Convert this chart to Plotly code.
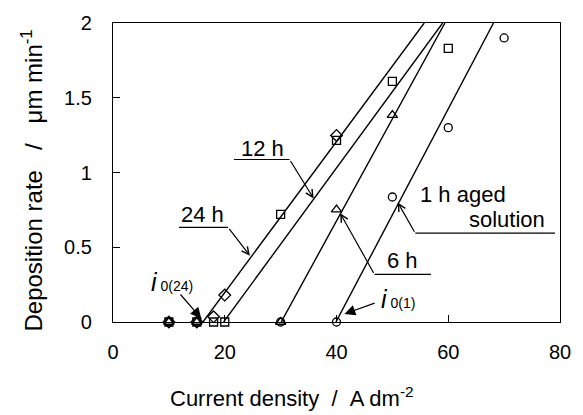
import plotly.graph_objects as go

# ---- data ----
x_1h = [10, 15, 30, 40, 50, 60, 70]
y_1h = [0, 0, 0, 0, 0.836, 1.30, 1.90]
x_6h = [10, 15, 30, 40, 50]
y_6h = [0, 0, 0, 0.752, 1.384]
x_12h = [10, 15, 18, 20, 30, 40, 50, 60]
y_12h = [0, 0, 0, 0, 0.72, 1.215, 1.61, 1.83]
x_24h = [10, 15, 18, 20, 40]
y_24h = [0, 0, 0.035, 0.18, 1.248]

# fitted lines (intercept current density i0 and point at rate = 2)
fit_24h_x = [16.1, 55.7]
fit_12h_x = [19.8, 59.0]
fit_6h_x = [30.1, 59.4]
fit_1h_x = [39.9, 68.1]
fit_y = [0, 2]

x_ticks = [0, 20, 40, 60, 80]
y_ticks = [0, 0.5, 1, 1.5, 2]
y_ticklabels = ["0", "0.5", "1", "1.5", "2"]

FONT = "Liberation Sans, Arial, Helvetica, sans-serif"

fig = go.Figure()

for fx in [fit_24h_x, fit_12h_x, fit_6h_x, fit_1h_x]:
    fig.add_trace(go.Scatter(x=fx, y=fit_y, mode="lines",
                             line=dict(color="black", width=1.4),
                             showlegend=False, hoverinfo="skip"))

def pts(x, y, sym, size):
    fig.add_trace(go.Scatter(x=x, y=y, mode="markers", cliponaxis=False,
                             marker=dict(symbol=sym, size=size, color="black",
                                         line=dict(color="black", width=1.3)),
                             showlegend=False))

pts(x_1h, y_1h, "circle-open", 8)
pts(x_6h, y_6h, "triangle-up-open", 9)
pts(x_12h, y_12h, "square-open", 8)
pts(x_24h, y_24h, "diamond-open", 9)

# label underlines and leader arrows
def label(text, tx, ty, ux0, ux1, uy, tipx, tipy, tailx, head, size=22):
    fig.add_annotation(x=tx, y=ty, text=text, showarrow=False,
                       font=dict(size=size, family=FONT, color="black"))
    fig.add_shape(type="line", x0=ux0, x1=ux1, y0=uy, y1=uy,
                  line=dict(color="black", width=1.2))
    fig.add_annotation(x=tipx, y=tipy, ax=tailx, ay=uy, axref="x", ayref="y",
                       text="", showarrow=True, arrowhead=head, arrowsize=1.2,
                       arrowwidth=1.2, arrowcolor="black")

label("24 h", 16.07, 0.72, 11.8, 20.6, 0.633, 24.5, 0.443, 20.6, 5)
label("12 h", 26.8, 1.16, 21.66, 31.6, 1.087, 35.9, 0.826, 31.6, 5)
label("6 h", 51.8, 0.41, 46.8, 56.9, 0.318, 40.66, 0.728, 46.8, 5)
fig.add_annotation(x=62.7, y=0.85, text="1 h aged", showarrow=False,
                   font=dict(size=22, family=FONT, color="black"))
label("solution", 70.6, 0.685, 54.1, 79.1, 0.594, 50.95, 0.80, 54.1, 5)

# i0 markers
fig.add_annotation(x=10.6, y=0.27, showarrow=False,
                   text="<i>i</i><span style='font-size:14px'> 0(24)</span>",
                   font=dict(size=25, family=FONT, color="black"))
fig.add_annotation(x=15.8, y=0.024, ax=11.84, ay=0.194, axref="x", ayref="y",
                   text="", showarrow=True, arrowhead=2, arrowsize=1.8,
                   arrowwidth=1.2, arrowcolor="black")
fig.add_annotation(x=51.0, y=0.155, showarrow=False,
                   text="<i>i</i><span style='font-size:14px'> 0(1)</span>",
                   font=dict(size=25, family=FONT, color="black"))
fig.add_annotation(x=41.43, y=0.054, ax=47.09, ay=0.13, axref="x", ayref="y",
                   text="", showarrow=True, arrowhead=2, arrowsize=1.8,
                   arrowwidth=1.2, arrowcolor="black")

# axis titles
fig.add_annotation(xref="paper", yref="paper", x=0.40, y=-0.25,
                   xanchor="center", yanchor="middle", showarrow=False,
                   text="Current density\u00a0\u00a0/\u00a0\u00a0A dm<sup>-2</sup>",
                   font=dict(size=22, family=FONT, color="black"))
fig.add_annotation(xref="paper", yref="paper", x=-0.182, y=0.472,
                   xanchor="center", yanchor="middle", showarrow=False,
                   textangle=-90,
                   text="Deposition rate\u00a0\u00a0\u00a0/\u00a0\u00a0\u00a0μm min<sup>-1</sup>",
                   font=dict(size=24, family=FONT, color="black"))

fig.update_layout(
    width=583, height=415,
    margin=dict(l=113, r=22, t=13, b=93),
    paper_bgcolor="white", plot_bgcolor="white",
    font=dict(family=FONT, color="black", size=20),
)
fig.update_xaxes(range=[0, 80], tickvals=x_ticks, ticks="inside", ticklen=7,
                 tickcolor="black", showline=True, linecolor="black", linewidth=1.2,
                 mirror=True, showgrid=False, zeroline=False,
                 tickfont=dict(size=20), ticklabelstandoff=12)
fig.update_yaxes(range=[0, 2], tickvals=y_ticks, ticktext=y_ticklabels,
                 ticks="inside", ticklen=7,
                 tickcolor="black", showline=True, linecolor="black", linewidth=1.2,
                 mirror=True, showgrid=False, zeroline=False,
                 tickfont=dict(size=20), ticklabelstandoff=16)

fig.write_html("out.html")
